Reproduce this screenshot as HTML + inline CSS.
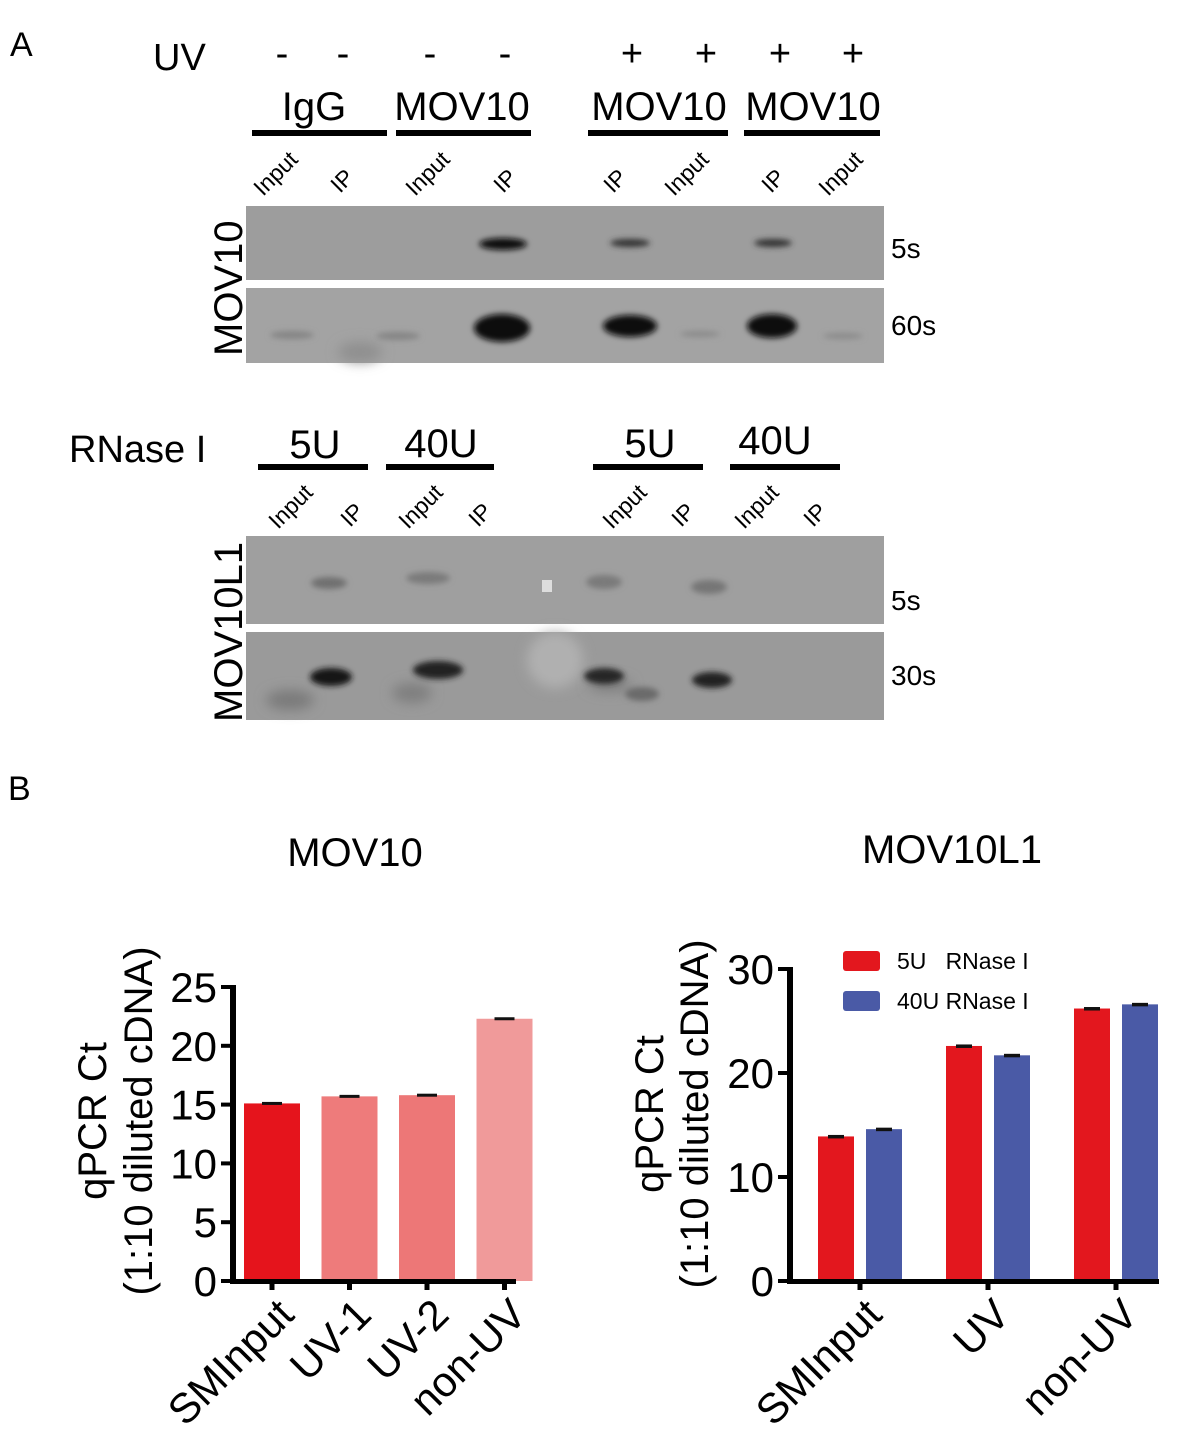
<!DOCTYPE html>
<html><head><meta charset="utf-8">
<style>
html,body{margin:0;padding:0;background:#fff;}
svg{display:block;font-family:"Liberation Sans",Arial,sans-serif;}
</style></head>
<body>
<svg id="fig" width="1200" height="1447" viewBox="0 0 1200 1447" xmlns="http://www.w3.org/2000/svg">
<defs>
<filter id="b3" x="-50%" y="-100%" width="200%" height="300%"><feGaussianBlur stdDeviation="3"/></filter>
<filter id="b6" x="-50%" y="-100%" width="200%" height="300%"><feGaussianBlur stdDeviation="6"/></filter>
</defs>
<!-- Panel A -->
<text x="10" y="56" font-size="34">A</text>
<g font-size="38">
<text x="153" y="70">UV</text>
<text x="282" y="66" text-anchor="middle">-</text><text x="343" y="66" text-anchor="middle">-</text>
<text x="430" y="66" text-anchor="middle">-</text><text x="505" y="66" text-anchor="middle">-</text>
<text x="632" y="66" text-anchor="middle">+</text><text x="706" y="66" text-anchor="middle">+</text>
<text x="780" y="66" text-anchor="middle">+</text><text x="853" y="66" text-anchor="middle">+</text>
</g>
<g font-size="40">
<text x="314" y="120" text-anchor="middle">IgG</text>
<text x="462" y="120" text-anchor="middle">MOV10</text>
<text x="659" y="120" text-anchor="middle">MOV10</text>
<text x="813" y="120" text-anchor="middle">MOV10</text>
<rect x="252" y="130" width="135" height="6"/><rect x="396" y="130" width="135" height="6"/>
<rect x="588" y="130" width="140" height="6"/><rect x="744" y="130" width="136" height="6"/>
</g>
<g font-size="23">
<text transform="translate(263,197) rotate(-45)">Input</text>
<text transform="translate(340,194) rotate(-45)">IP</text>
<text transform="translate(415,197) rotate(-45)">Input</text>
<text transform="translate(503,194) rotate(-45)">IP</text>
<text transform="translate(613,194) rotate(-45)">IP</text>
<text transform="translate(674,197) rotate(-45)">Input</text>
<text transform="translate(771,194) rotate(-45)">IP</text>
<text transform="translate(828,197) rotate(-45)">Input</text>
</g>
<text transform="translate(242,356) rotate(-90)" font-size="40">MOV10</text>
<g>
<rect x="246" y="206" width="638" height="74" fill="#9d9d9d"/>
<ellipse cx="503" cy="244" rx="24" ry="6" fill="#0a0a0a" filter="url(#b3)"/>
<ellipse cx="630" cy="243" rx="20" ry="4" fill="#333" filter="url(#b3)"/>
<ellipse cx="773" cy="243" rx="19" ry="4" fill="#333" filter="url(#b3)"/>
</g>
<g>
<rect x="246" y="288" width="638" height="75" fill="#a3a3a3"/>
<ellipse cx="292" cy="335" rx="22" ry="4" fill="#858585" filter="url(#b3)"/>
<ellipse cx="360" cy="352" rx="22" ry="10" fill="#8f8f8f" filter="url(#b6)"/>
<ellipse cx="398" cy="336" rx="22" ry="4" fill="#858585" filter="url(#b3)"/>
<ellipse cx="502" cy="328" rx="28" ry="14" fill="#080808" filter="url(#b3)"/>
<ellipse cx="630" cy="326" rx="27" ry="11" fill="#0a0a0a" filter="url(#b3)"/>
<ellipse cx="772" cy="326" rx="25" ry="12" fill="#0a0a0a" filter="url(#b3)"/>
<ellipse cx="700" cy="334" rx="20" ry="3" fill="#8a8a8a" filter="url(#b3)"/>
<ellipse cx="843" cy="336" rx="20" ry="3" fill="#8a8a8a" filter="url(#b3)"/>
</g>
<text x="891" y="258" font-size="28">5s</text>
<text x="891" y="335" font-size="28">60s</text>

<text x="69" y="462" font-size="38">RNase I</text>
<g font-size="40">
<text x="315" y="458" text-anchor="middle">5U</text>
<text x="441" y="457" text-anchor="middle">40U</text>
<text x="650" y="457" text-anchor="middle">5U</text>
<text x="775" y="454" text-anchor="middle">40U</text>
<rect x="258" y="464" width="110" height="6"/><rect x="386" y="464" width="108" height="6"/>
<rect x="593" y="464" width="110" height="6"/><rect x="730" y="464" width="110" height="6"/>
</g>
<g font-size="23">
<text transform="translate(278,530) rotate(-45)">Input</text>
<text transform="translate(350,528) rotate(-45)">IP</text>
<text transform="translate(408,530) rotate(-45)">Input</text>
<text transform="translate(478,528) rotate(-45)">IP</text>
<text transform="translate(612,530) rotate(-45)">Input</text>
<text transform="translate(681,528) rotate(-45)">IP</text>
<text transform="translate(744,530) rotate(-45)">Input</text>
<text transform="translate(813,528) rotate(-45)">IP</text>
</g>
<text transform="translate(242,722) rotate(-90)" font-size="40">MOV10L1</text>
<g>
<rect x="246" y="536" width="638" height="88" fill="#9f9f9f"/>
<ellipse cx="329" cy="583" rx="18" ry="6" fill="#707070" filter="url(#b3)"/>
<ellipse cx="428" cy="578" rx="22" ry="6" fill="#7a7a7a" filter="url(#b3)"/>
<ellipse cx="604" cy="582" rx="18" ry="7" fill="#7a7a7a" filter="url(#b3)"/>
<ellipse cx="709" cy="587" rx="18" ry="7" fill="#767676" filter="url(#b3)"/>
<rect x="542" y="580" width="10" height="12" fill="#ddd"/>
</g>
<g>
<rect x="246" y="632" width="638" height="88" fill="#9a9a9a"/>
<ellipse cx="290" cy="700" rx="24" ry="10" fill="#7a7a7a" filter="url(#b6)"/>
<ellipse cx="331" cy="677" rx="21" ry="9" fill="#151515" filter="url(#b3)"/>
<ellipse cx="412" cy="693" rx="20" ry="10" fill="#7f7f7f" filter="url(#b6)"/>
<ellipse cx="438" cy="670" rx="25" ry="9" fill="#202020" filter="url(#b3)"/>
<ellipse cx="555" cy="660" rx="28" ry="28" fill="#b0b0b0" filter="url(#b6)"/>
<ellipse cx="610" cy="685" rx="22" ry="7" fill="#7f7f7f" filter="url(#b6)"/>
<ellipse cx="604" cy="676" rx="20" ry="8" fill="#252525" filter="url(#b3)"/>
<ellipse cx="642" cy="694" rx="17" ry="7" fill="#6a6a6a" filter="url(#b3)"/>
<ellipse cx="712" cy="680" rx="20" ry="8" fill="#202020" filter="url(#b3)"/>
</g>
<text x="891" y="610" font-size="28">5s</text>
<text x="891" y="685" font-size="28">30s</text>

<!-- Panel B -->
<text x="8" y="800" font-size="34">B</text>
<text x="355" y="866" font-size="40" text-anchor="middle">MOV10</text>
<text x="952" y="863" font-size="40" text-anchor="middle">MOV10L1</text>
<g id="chart1"></g>
<g id="chart2"></g>
</svg>
<script>
const NS='http://www.w3.org/2000/svg';
// Chart 1 data
const c1Categories=['SMInput','UV-1','UV-2','non-UV'];
const c1Values=[15.1,15.7,15.8,22.3];
const c1Colors=['#e5141c','#ee7b7b','#ed7777','#f09a9a'];
const c1Ticks=[0,5,10,15,20,25];
// Chart 2 data
const c2Categories=['SMInput','UV','non-UV'];
const c2Series5U=[13.9,22.6,26.2];
const c2Series40U=[14.6,21.7,26.6];
const c2SeriesNames=['5U   RNase I','40U RNase I'];
const c2Ticks=[0,10,20,30];

function el(tag,attrs,parent,text){const e=document.createElementNS(NS,tag);for(const k in attrs)e.setAttribute(k,attrs[k]);if(text!==undefined)e.textContent=text;parent.appendChild(e);return e;}

(function(){
const g=document.getElementById('chart1');
const x0=233,y0=1281,yMax=25,h=294;
const y=v=>y0-v/yMax*h;
const slot=77.5,bw=56,start=244;
const xc=i=>start+bw/2+i*slot;
c1Values.forEach((v,i)=>{
 const r=el('rect',{x:xc(i)-bw/2,y:y(v),width:bw,height:y0-y(v),fill:c1Colors[i]},g);
 
 
 el('rect',{x:xc(i)-10,y:y(v)-1.5,width:20,height:3,fill:'#111'},g);
 el('rect',{x:xc(i)-2.5,y:y0,width:5,height:9,fill:'#000'},g);
 const t=el('text',{transform:`translate(${xc(i)+24},${y0+36}) rotate(-45)`,'font-size':42,'text-anchor':'end'},g,c1Categories[i]);
 
 
});
el('rect',{x:x0-3,y:y(yMax)-2,width:6,height:h+5},g);
el('rect',{x:x0-3,y:y0-2,width:286,height:5},g);
c1Ticks.forEach(tv=>{
 el('rect',{x:x0-12,y:y(tv)-2,width:10,height:4},g);
 const t=el('text',{x:x0-16,y:y(tv)+15,'font-size':42,'text-anchor':'end'},g,String(tv));
 
 
});
const yt=el('text',{transform:'translate(106,1121) rotate(-90)','font-size':40,'text-anchor':'middle'},g,'qPCR Ct');


el('text',{transform:'translate(152,1121) rotate(-90)','font-size':40,'text-anchor':'middle'},g,'(1:10 diluted cDNA)');
})();

(function(){
const g=document.getElementById('chart2');
const x0=790,y0=1281,yMax=30,h=312;
const y=v=>y0-v/yMax*h;
const bw=36,gx=[818,946,1074];
const cols=['#e3171e','#4a5aa6'];
[c2Series5U,c2Series40U].forEach((ser,s)=>{
 ser.forEach((v,i)=>{
  const x=gx[i]+s*48;
  const r=el('rect',{x:x,y:y(v),width:bw,height:y0-y(v),fill:cols[s]},g);
  
  
  el('rect',{x:x+bw/2-8,y:y(v)-1.5,width:16,height:3.5,fill:'#111'},g);
 });
});
c2Categories.forEach((c,i)=>{
 const cx=gx[i]+42;
 el('rect',{x:cx-2.5,y:y0,width:5,height:9,fill:'#000'},g);
 const t=el('text',{transform:`translate(${cx+24},${y0+36}) rotate(-45)`,'font-size':42,'text-anchor':'end'},g,c);
 
 
});
el('rect',{x:x0-3,y:y(yMax)-2,width:6,height:h+5},g);
el('rect',{x:x0-3,y:y0-2,width:372,height:5},g);
c2Ticks.forEach(tv=>{
 el('rect',{x:x0-12,y:y(tv)-2,width:10,height:4},g);
 const t=el('text',{x:x0-16,y:y(tv)+15,'font-size':42,'text-anchor':'end'},g,String(tv));
 
 
});
const yt=el('text',{transform:'translate(663,1114) rotate(-90)','font-size':40,'text-anchor':'middle'},g,'qPCR Ct');


el('text',{transform:'translate(708,1114) rotate(-90)','font-size':40,'text-anchor':'middle'},g,'(1:10 diluted cDNA)');
c2SeriesNames.forEach((n,s)=>{
 const ly=951+s*40;
 const r=el('rect',{x:843,y:ly,width:37,height:20,rx:3,fill:cols[s]},g);
 
 
 const t=el('text',{x:897,y:ly+18,'font-size':23},g,n);
 t.setAttribute('xml:space','preserve');
 t.style.whiteSpace='pre';
 
 
});
})();
</script>
</body></html>
